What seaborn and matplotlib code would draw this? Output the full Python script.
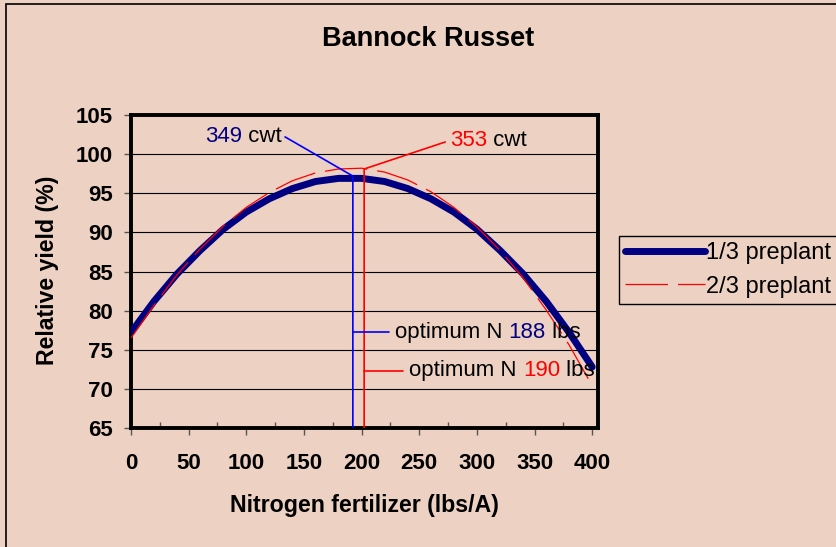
import matplotlib
matplotlib.use("Agg")
import matplotlib.pyplot as plt
import seaborn as sns
import pandas as pd
from matplotlib.patches import Rectangle

# data
nitrogen = [0, 20, 40, 60, 80, 100, 120, 140, 160, 180, 200,
            220, 240, 260, 280, 300, 320, 340, 360, 380, 400]
yield_third = [77.2, 81.2, 84.7, 87.7, 90.4, 92.6, 94.3, 95.6, 96.5, 96.9, 96.9,
               96.5, 95.6, 94.3, 92.6, 90.4, 87.7, 84.7, 81.2, 77.2, 72.8]
yield_two_thirds = [76.5, 80.7, 84.6, 87.9, 90.8, 93.2, 95.1, 96.6, 97.6, 98.1, 98.2,
                    97.7, 96.7, 95.2, 93.2, 90.7, 87.7, 84.2, 80.1, 75.6, 70.4]
series_labels = ["1/3 preplant", "2/3 preplant"]

opt_x = [192.4, 202.2]            # where the drop lines were drawn
peak_y = [97.2, 98.1]
cwt_text = ["349", "353"]
opt_text = ["188", "190"]

bg = "#EDD1C2"
navy = "#000080"

df = pd.DataFrame({"N": nitrogen, "a": yield_third, "b": yield_two_thirds})

sns.set_style("ticks")
plt.rcParams["font.family"] = ["Liberation Sans", "DejaVu Sans"]
plt.rcParams["text.color"] = "black"
plt.rcParams["axes.labelcolor"] = "black"
plt.rcParams["xtick.labelcolor"] = "black"
plt.rcParams["ytick.labelcolor"] = "black"

fig = plt.figure(figsize=(8.37, 5.47), dpi=100, facecolor=bg)
ax = fig.add_axes([131 / 837, 1 - 428 / 547, 467 / 837, 313 / 547])
ax.set_facecolor(bg)

# outer chart border (only top and left visible in the original)
fig.patches.append(Rectangle((6 / 837, -0.1), 1.2, 1.1 - 4.5 / 547, transform=fig.transFigure,
                             fill=False, edgecolor="black", lw=1.2, zorder=0))

sns.lineplot(data=df, x="N", y="a", ax=ax, color=navy, lw=5, label=series_labels[0],
             solid_capstyle="round", zorder=4)
sns.lineplot(data=df, x="N", y="b", ax=ax, color="red", lw=0.9, label=series_labels[1],
             dashes=(34, 8), zorder=5)

ax.set_xlim(0, 405)
ax.set_ylim(65, 105)
ax.set_xticks(range(0, 401, 50))
ax.set_xticks(range(25, 400, 50), minor=True)
ax.set_yticks(range(65, 106, 5))
ax.yaxis.grid(True, color="black", lw=0.8)
ax.set_axisbelow(True)
for s in ax.spines.values():
    s.set_linewidth(2.8)
    s.set_color("black")
ax.tick_params(axis="both", which="major", direction="out", length=5, width=1, color="#555555")
ax.tick_params(axis="x", which="minor", direction="in", length=4, width=1, color="#555555")
ax.tick_params(axis="x", pad=13, labelsize=16)
ax.tick_params(axis="y", pad=8, labelsize=16)
for lab in ax.get_xticklabels() + ax.get_yticklabels():
    lab.set_fontweight("bold")

ax.set_xlabel("Nitrogen fertilizer (lbs/A)", fontsize=16.7, fontweight="bold")
ax.set_ylabel("Relative yield (%)", fontsize=16.7, fontweight="bold")
ax.xaxis.set_label_coords(0.5, -0.247)
ax.xaxis.label.set_va("center")
ax.yaxis.set_label_coords(-0.178, 0.505)
ax.yaxis.label.set_va("center")

fig.text(0.511, 0.929, "Bannock Russet", ha="center", va="center", fontsize=19.5, fontweight="bold")

# optimum markers
ax.plot([133.6, opt_x[0], opt_x[0]], [102.2, peak_y[0], 65], color="blue", lw=1.2, zorder=6)
ax.plot([272.5, opt_x[1], opt_x[1]], [101.55, peak_y[1], 65], color="red", lw=1.2, zorder=6)
ax.plot([opt_x[0], 224], [77.25, 77.25], color="blue", lw=1.2, zorder=6)
ax.plot([opt_x[1], 236], [72.3, 72.3], color="red", lw=1.2, zorder=6)


def two_tone(x, y, parts, size=16):
    prev = ax.text(x, y, parts[0][0], color=parts[0][1], fontsize=size, va="center", ha="left", zorder=7)
    for txt, col in parts[1:]:
        prev = ax.annotate(txt, xy=(1, 0), xycoords=prev, va="bottom", ha="left",
                           color=col, fontsize=size, zorder=7)


two_tone(64.2, 102.3, [(cwt_text[0], navy), (" cwt", "black")])
two_tone(276.8, 101.75, [(cwt_text[1], "red"), (" cwt", "black")])
two_tone(229, 77.25, [("optimum N ", "black"), (opt_text[0], navy), (" lbs", "black")])
two_tone(241.5, 72.3, [("optimum N ", "black"), (opt_text[1], "red"), (" lbs", "black")])

leg = ax.legend(loc="upper left", bbox_to_anchor=(619 / 837, 1 - 236 / 547),
                bbox_transform=fig.transFigure, borderaxespad=0, fontsize=17,
                handlelength=3.4, handletextpad=0.05, labelspacing=0.5, borderpad=0.25,
                frameon=True, fancybox=False, framealpha=1, facecolor=bg, edgecolor="black")
leg.get_frame().set_linewidth(1)

fig.savefig("out.png", dpi=100, facecolor=bg)
